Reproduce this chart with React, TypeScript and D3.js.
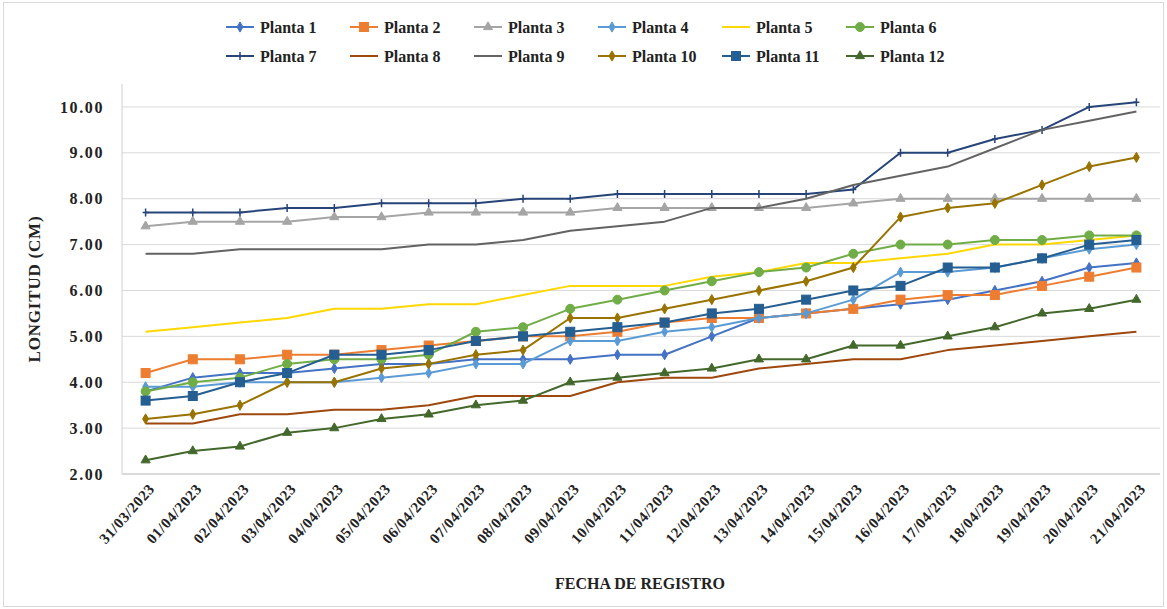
import React from "react";
import * as d3 from "d3";

const dates = ["31/03/2023","01/04/2023","02/04/2023","03/04/2023","04/04/2023","05/04/2023","06/04/2023","07/04/2023","08/04/2023","09/04/2023","10/04/2023","11/04/2023","12/04/2023","13/04/2023","14/04/2023","15/04/2023","16/04/2023","17/04/2023","18/04/2023","19/04/2023","20/04/2023","21/04/2023"];

const planta1 = [3.8,4.1,4.2,4.2,4.3,4.4,4.4,4.5,4.5,4.5,4.6,4.6,5.0,5.4,5.5,5.6,5.7,5.8,6.0,6.2,6.5,6.6];
const planta2 = [4.2,4.5,4.5,4.6,4.6,4.7,4.8,4.9,5.0,5.0,5.1,5.3,5.4,5.4,5.5,5.6,5.8,5.9,5.9,6.1,6.3,6.5];
const planta3 = [7.4,7.5,7.5,7.5,7.6,7.6,7.7,7.7,7.7,7.7,7.8,7.8,7.8,7.8,7.8,7.9,8.0,8.0,8.0,8.0,8.0,8.0];
const planta4 = [3.9,3.9,4.0,4.0,4.0,4.1,4.2,4.4,4.4,4.9,4.9,5.1,5.2,5.4,5.5,5.8,6.4,6.4,6.5,6.7,6.9,7.0];
const planta5 = [5.1,5.2,5.3,5.4,5.6,5.6,5.7,5.7,5.9,6.1,6.1,6.1,6.3,6.4,6.6,6.6,6.7,6.8,7.0,7.0,7.1,7.2];
const planta6 = [3.8,4.0,4.1,4.4,4.5,4.5,4.6,5.1,5.2,5.6,5.8,6.0,6.2,6.4,6.5,6.8,7.0,7.0,7.1,7.1,7.2,7.2];
const planta7 = [7.7,7.7,7.7,7.8,7.8,7.9,7.9,7.9,8.0,8.0,8.1,8.1,8.1,8.1,8.1,8.2,9.0,9.0,9.3,9.5,10.0,10.1];
const planta8 = [3.1,3.1,3.3,3.3,3.4,3.4,3.5,3.7,3.7,3.7,4.0,4.1,4.1,4.3,4.4,4.5,4.5,4.7,4.8,4.9,5.0,5.1];
const planta9 = [6.8,6.8,6.9,6.9,6.9,6.9,7.0,7.0,7.1,7.3,7.4,7.5,7.8,7.8,8.0,8.3,8.5,8.7,9.1,9.5,9.7,9.9];
const planta10 = [3.2,3.3,3.5,4.0,4.0,4.3,4.4,4.6,4.7,5.4,5.4,5.6,5.8,6.0,6.2,6.5,7.6,7.8,7.9,8.3,8.7,8.9];
const planta11 = [3.6,3.7,4.0,4.2,4.6,4.6,4.7,4.9,5.0,5.1,5.2,5.3,5.5,5.6,5.8,6.0,6.1,6.5,6.5,6.7,7.0,7.1];
const planta12 = [2.3,2.5,2.6,2.9,3.0,3.2,3.3,3.5,3.6,4.0,4.1,4.2,4.3,4.5,4.5,4.8,4.8,5.0,5.2,5.5,5.6,5.8];

const seriesNames = ["Planta 1","Planta 2","Planta 3","Planta 4","Planta 5","Planta 6","Planta 7","Planta 8","Planta 9","Planta 10","Planta 11","Planta 12"];
const seriesValues = [planta1,planta2,planta3,planta4,planta5,planta6,planta7,planta8,planta9,planta10,planta11,planta12];
const seriesColors = ["#4472C4","#ED7D31","#A5A5A5","#5B9BD5","#FFD800","#70AD47","#264478","#9E480E","#636363","#997300","#255E91","#43682B"];
const seriesMarkers = ["diamond","square","triangle","diamond","none","circle","plus","none","none","diamond","square","triangle"];
const yTicks = [2,3,4,5,6,7,8,9,10];

const W = 1167, H = 609;
const plotL = 122, plotR = 1160, plotT = 84, plotB = 474;
const FONT = "'Liberation Serif', 'Times New Roman', serif";

function Marker({ type, x, y, color }: { type: string; x: number; y: number; color: string }) {
  if (type === "none") return null;
  if (type === "square") return <rect x={x - 4.5} y={y - 4.5} width={9} height={9} fill={color} stroke={color} />;
  if (type === "circle") return <circle cx={x} cy={y} r={4.5} fill={color} stroke={color} />;
  if (type === "diamond") {
    const p = d3.symbol(d3.symbolDiamond, 30)();
    return <path d={p as string} transform={`translate(${x},${y})`} fill={color} stroke={color} />;
  }
  if (type === "triangle") {
    const p = d3.symbol(d3.symbolTriangle, 36)();
    return <path d={p as string} transform={`translate(${x},${y})`} fill={color} stroke={color} />;
  }
  if (type === "plus") {
    return <path d={`M${x},${y - 4}V${y + 4}M${x - 3},${y}H${x + 3}`} stroke={color} strokeWidth={1.5} fill="none" />;
  }
  return null;
}

export default function App() {
  const x = d3.scaleBand<string>().domain(dates).range([plotL, plotR]);
  const y = d3.scaleLinear().domain([2, 10.5]).range([plotB, plotT]);
  const cx = (d: string) => (x(d) as number) + x.bandwidth() / 2;
  const line = d3.line<number>().x((_, i) => cx(dates[i])).y((v) => y(v));

  const legendX0 = 226, legendDx = 124, legendRowY = [27, 56];

  return (
    <svg width={W} height={H} style={{ position: "absolute", left: 0, top: 0, background: "#fff" }} fontFamily={FONT}>
      <rect x={3.5} y={2.5} width={W - 7} height={H - 5} fill="#fff" stroke="#d9d9d9" />
      {yTicks.map((t) => (
        <g key={t}>
          <line x1={plotL} x2={plotR} y1={y(t)} y2={y(t)} stroke="#d9d9d9" strokeWidth={1} />
          <text x={plotL - 18} y={y(t)} dy="0.35em" textAnchor="end" fontSize={16} letterSpacing={1.6} fontWeight="bold" fill="#222">
            {t.toFixed(2)}
          </text>
        </g>
      ))}
      <line x1={plotL} x2={plotL} y1={plotT} y2={plotB} stroke="#d0d0d0" />
      <line x1={plotL} x2={plotR} y1={plotB} y2={plotB} stroke="#c8c8c8" />
      {dates.map((d) => (
        <text key={d} transform={`translate(${cx(d) + 6},${plotB + 12}) rotate(-48)`} textAnchor="end" dy="0.35em" fontSize={15} letterSpacing={0.6} fontWeight="bold" fill="#222">
          {d}
        </text>
      ))}
      <text transform={`translate(40,${(plotT + plotB) / 2 + 10}) rotate(-90)`} textAnchor="middle" fontSize={17} letterSpacing={0.8} fontWeight="bold" fill="#222">
        LONGITUD (CM)
      </text>
      <text x={640} y={589} textAnchor="middle" fontSize={16} fontWeight="bold" fill="#222">
        FECHA DE REGISTRO
      </text>
      {seriesValues.map((vals, si) => (
        <g key={si}>
          <path d={line(vals) as string} fill="none" stroke={seriesColors[si]} strokeWidth={2} strokeLinejoin="round" />
          {vals.map((v, i) => (
            <Marker key={i} type={seriesMarkers[si]} x={cx(dates[i])} y={y(v)} color={seriesColors[si]} />
          ))}
        </g>
      ))}
      {seriesNames.map((n, si) => {
        const col = si % 6, row = Math.floor(si / 6);
        const lx = legendX0 + col * legendDx, ly = legendRowY[row];
        return (
          <g key={n}>
            <line x1={lx} x2={lx + 28} y1={ly} y2={ly} stroke={seriesColors[si]} strokeWidth={2} />
            <Marker type={seriesMarkers[si]} x={lx + 14} y={ly} color={seriesColors[si]} />
            <text x={lx + 34} y={ly} dy="0.35em" fontSize={16} fontWeight="bold" fill="#222">
              {n}
            </text>
          </g>
        );
      })}
    </svg>
  );
}
